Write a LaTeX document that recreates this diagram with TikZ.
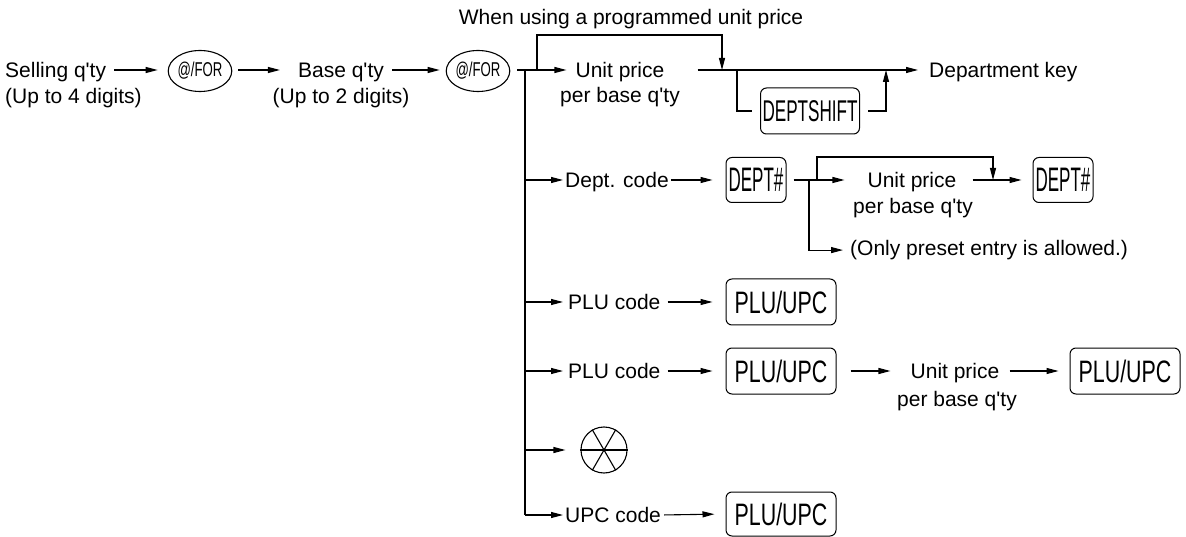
\documentclass[tikz,border=0pt]{standalone}
\usepackage{fontspec}
\setmainfont{Liberation Sans}[Ligatures=TeXOff]
\usepackage{graphicx}
\usetikzlibrary{arrows.meta,shapes.geometric,calc}
\newcommand\keytxt[3]{\fontsize{#1}{#1}\selectfont\scalebox{#2}[1]{#3}}
\begin{document}
\begin{tikzpicture}[x=1pt,y=-1pt,
  txt/.style={font=\fontsize{21}{26}\selectfont, inner sep=0pt},
  keybox/.style={draw, line width=1pt, rounded corners=6pt, inner sep=0pt},
  forkey/.style={draw, ellipse, line width=1.1pt, inner sep=0pt, minimum width=55pt, minimum height=41pt},
  ln/.style={line width=1.1pt},
  arr/.style={ln, -{Triangle[length=12pt,width=6pt]}},
  xsym/.style={draw, circle, line width=1.1pt, minimum size=46pt, inner sep=0pt},
]
\useasboundingbox (0,0) rectangle (1186,537);

% ---- row 1 ----
\node[txt, anchor=base west] (sell1) at (5,77.5) {Selling q'ty};
\node[txt, anchor=base west] (sell2) at (5,104) {(Up to 4 digits)};
\node[forkey] (for1) at (200,71) {\keytxt{20}{0.66}{@/FOR}};
\node[txt, anchor=base] (base1) at (341,77.5) {Base q'ty};
\node[txt, anchor=base] (base2) at (341,104) {(Up to 2 digits)};
\node[forkey] (for2) at (478,71) {\keytxt{20}{0.66}{@/FOR}};
\node[txt, anchor=base] (note) at (631,25) {When using a programmed unit price};
\node[txt, anchor=base] (up1) at (620,77.5) {Unit price};
\node[txt, anchor=base] (up1b) at (620,103) {per base q'ty};
\node[keybox, minimum width=99pt, minimum height=46pt] (dshift) at (810,111) {\keytxt{30}{0.57}{DEPTSHIFT}};
\node[txt, anchor=base west] (dkey) at (929,77.5) {Department key};

% ---- row 2 ----
\node[txt, anchor=base west] (dc) at (565,187.5) {Dept. code};
\node[keybox, minimum width=60pt, minimum height=45pt] (dept1) at (756,180) {\keytxt{34}{0.5}{DEPT\#}};
\node[txt, anchor=base] (up2) at (912,187.5) {Unit price};
\node[txt, anchor=base] (up2b) at (913,214) {per base q'ty};
\node[keybox, minimum width=60pt, minimum height=45pt] (dept2) at (1063,180) {\keytxt{34}{0.5}{DEPT\#}};
\node[txt, anchor=base west] (only) at (850,255.5) {(Only preset entry is allowed.)};

% ---- row 3 ----
\node[txt, anchor=base west] (plu1) at (568,309.5) {PLU code};
\node[keybox, minimum width=110pt, minimum height=46pt] (pu1) at (781,302) {\keytxt{31}{0.69}{PLU/UPC}};

% ---- row 4 ----
\node[txt, anchor=base west] (plu2) at (568,378.5) {PLU code};
\node[keybox, minimum width=110pt, minimum height=46pt] (pu2) at (781,371) {\keytxt{31}{0.69}{PLU/UPC}};
\node[txt, anchor=base] (up3) at (955,378.5) {Unit price};
\node[txt, anchor=base] (up3b) at (957,406) {per base q'ty};
\node[keybox, minimum width=110pt, minimum height=46pt] (pu3) at (1125,371) {\keytxt{31}{0.69}{PLU/UPC}};

% ---- row 5 ----
\node[xsym] (xo) at (604,450) {};
\draw[ln] (xo.west) -- (xo.east);
\draw[ln] (xo.60) -- (xo.240);
\draw[ln] (xo.120) -- (xo.300);

% ---- row 6 ----
\node[txt, anchor=base west] (upc) at (565,522.5) {UPC code};
\node[keybox, minimum width=110pt, minimum height=44pt] (pu4) at (781,514) {\keytxt{31}{0.69}{PLU/UPC}};

% ---- junction coordinates ----
\coordinate (J0) at (525,70);
\coordinate (V2) at (525,180);
\coordinate (V3) at (525,302);
\coordinate (V4) at (525,371);
\coordinate (V5) at (525,450);
\coordinate (V6) at (525,515);
\coordinate (J1) at (537,70);
\coordinate (T1) at (722,70);
\coordinate (J2) at (737,70);
\coordinate (J3) at (886,70);
\coordinate (J4) at (809,180);
\coordinate (J5) at (817,180);
\coordinate (T2) at (993,180);

% ---- connectors row 1 ----
\draw[arr, shorten <=8pt, shorten >=10pt] (sell1.east |- J0) -- (for1.west |- J0);
\draw[arr, shorten <=6pt, shorten >=18pt] (for1.east |- J0) -- (base1.west |- J0);
\draw[arr, shorten <=8pt, shorten >=6pt] (base1.east |- J0) -- (for2.west |- J0);
\draw[ln, shorten <=7pt] (for2.east |- J0) -- (J0);
\draw[ln] (J0) -- (V6);
\draw[arr, shorten >=9pt] (J0) -- (up1.west |- J0);
\draw[arr] (J1) -- ++(0,-35) -| (T1);
\draw[arr, shorten <=33pt, shorten >=11pt] (up1.east |- T1) -- (dkey.west |- T1);
\draw[ln, shorten >=8pt] (J2) |- (dshift.west);
\draw[arr, shorten <=8pt] (dshift.east) -| (J3);

% ---- connectors row 2 ----
\draw[arr, shorten >=2pt] (V2) -- (dc.west |- V2);
\draw[arr, shorten <=2pt, shorten >=13pt] (dc.east |- V2) -- (dept1.west);
\draw[arr, shorten <=7pt, shorten >=23pt] (dept1.east) -- (up2.west |- V2);
\draw[arr, shorten >=7pt] (J4) |- (only.west);
\draw[arr] (J5) -- ++(0,-23) -| (T2);
\draw[arr, shorten <=16pt, shorten >=11pt] (up2.east |- V2) -- (dept2.west);

% ---- connectors rows 3-6 ----
\draw[arr, shorten >=5pt] (V3) -- (plu1.west |- V3);
\draw[arr, shorten <=7pt, shorten >=13pt] (plu1.east |- V3) -- (pu1.west);
\draw[arr, shorten >=5pt] (V4) -- (plu2.west |- V4);
\draw[arr, shorten <=7pt, shorten >=13pt] (plu2.east |- V4) -- (pu2.west);
\draw[arr, shorten <=14pt, shorten >=20pt] (pu2.east) -- (up3.west |- V4);
\draw[arr, shorten <=10pt, shorten >=11pt] (up3.east |- V4) -- (pu3.west);
\draw[arr, shorten >=15pt] (V5) -- (xo.west);
\draw[arr, shorten >=2pt] (V6) -- (upc.west |- V6);
\draw[arr, shorten <=3pt, shorten >=11pt] (upc.east |- V6) -- (pu4.west);
\end{tikzpicture}
\end{document}
